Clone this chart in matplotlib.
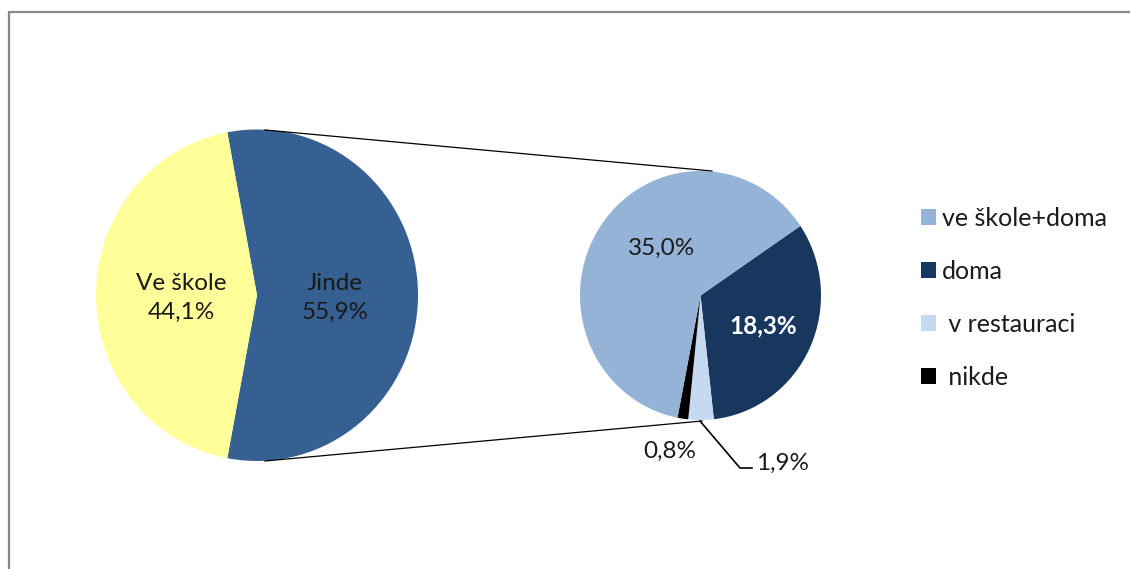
import matplotlib
matplotlib.use("Agg")
import matplotlib.pyplot as plt
from matplotlib.patches import Patch

plt.rcParams['font.family'] = ['Lato', 'DejaVu Sans']

# Data
main_labels = ["Jinde", "Ve škole"]
main_values = [55.9, 44.1]
main_colors = ["#376092", "#FFFF99"]

sub_labels = ["doma", "v restauraci", "nikde", "ve škole+doma"]
sub_values = [18.3, 1.9, 0.8, 35.0]
sub_colors = ["#17375E", "#C6D9F1", "#000000", "#95B3D7"]

legend_order = ["ve škole+doma", "doma", " v restauraci", " nikde"]
legend_colors = ["#95B3D7", "#17375E", "#C6D9F1", "#000000"]

W, H = 1130, 569
fig = plt.figure(figsize=(W / 100, H / 100), dpi=100)

def px_axes(x0, y0, x1, y1):
    return fig.add_axes([x0 / W, 1 - y1 / H, (x1 - x0) / W, (y1 - y0) / H])

# Left (main) pie
ax1 = px_axes(96, 129.5, 418, 461)
start = -main_values[0] / 100 * 360 / 2
ax1.pie(main_values, colors=main_colors, startangle=start, counterclock=True,
        radius=1, wedgeprops=dict(linewidth=0))
ax1.set_aspect('auto')
ax1.set_xlim(-1, 1)
ax1.set_ylim(-1, 1)
ax1.axis('off')

# Right (sub) pie
ax2 = px_axes(580, 171, 821, 420)
ax2.pie(sub_values, colors=sub_colors, startangle=34, counterclock=False,
        radius=1, wedgeprops=dict(linewidth=0))
ax2.set_aspect('auto')
ax2.set_xlim(-1, 1)
ax2.set_ylim(-1, 1)
ax2.axis('off')

# Overlay in pixel coordinates
ax0 = fig.add_axes([0, 0, 1, 1])
ax0.set_xlim(0, W)
ax0.set_ylim(H, 0)
ax0.patch.set_visible(False)
ax0.axis('off')

# Chart frame
ax0.plot([8, W], [12, 12], color="#888888", lw=1.6, solid_capstyle='butt')
ax0.plot([9, 9], [12, H], color="#888888", lw=1.6, solid_capstyle='butt')

# Connector lines
ax0.plot([265, 712], [130, 171], color="black", lw=0.9)
ax0.plot([265, 702], [461, 421], color="black", lw=0.9)

fs = 17.5
tc = "#1a1a1a"
# Main labels
ax0.text(181, 298, f"{main_labels[1]}\n{main_values[1]:.1f}%".replace('.', ','),
         ha='center', va='center', fontsize=fs, color=tc, linespacing=1.5)
ax0.text(335, 298, f"{main_labels[0]}\n{main_values[0]:.1f}%".replace('.', ','),
         ha='center', va='center', fontsize=fs, color=tc, linespacing=1.5)

# Sub labels
ax0.text(662, 248, f"{sub_values[3]:.1f}%".replace('.', ','), ha='center', va='center',
         fontsize=fs, color=tc)
ax0.text(763, 326, f"{sub_values[0]:.1f}%".replace('.', ','), ha='center', va='center',
         fontsize=fs, color="white", fontweight='bold')
ax0.text(670, 451, f"{sub_values[2]:.1f}%".replace('.', ','), ha='center', va='center',
         fontsize=fs, color=tc)
ax0.text(783, 463, f"{sub_values[1]:.1f}%".replace('.', ','), ha='center', va='center',
         fontsize=fs, color=tc)
ax0.plot([700, 740, 752], [421, 468, 468], color="black", lw=1.2)

# Legend
handles = [Patch(facecolor=c, edgecolor='none') for c in legend_colors]
leg = ax0.legend(handles, legend_order, loc='upper left',
                 bbox_to_anchor=(921 / W, 1 - 207 / H), bbox_transform=fig.transFigure,
                 frameon=False, fontsize=18, handlelength=0.6, handleheight=0.6,
                 handletextpad=0.25, labelspacing=1.2, borderpad=0, borderaxespad=0)
for t in leg.get_texts():
    t.set_color(tc)

fig.savefig("out.png", dpi=100)
